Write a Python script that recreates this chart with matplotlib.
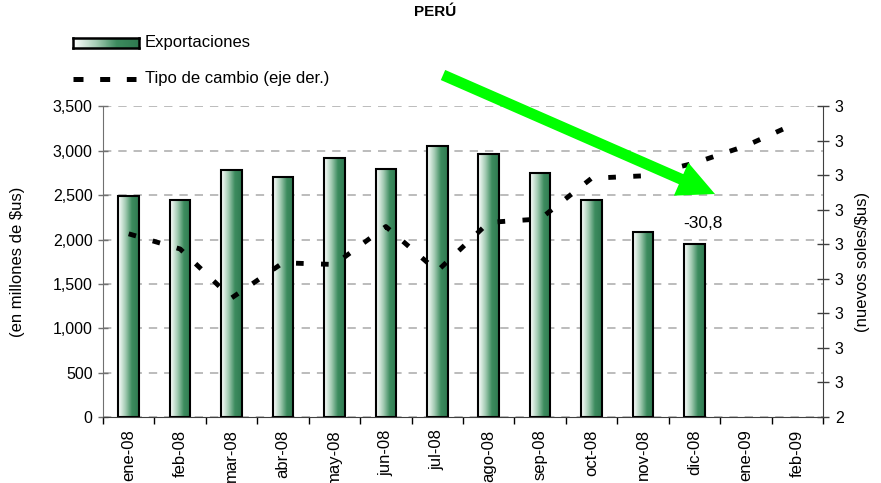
import numpy as np, matplotlib
matplotlib.use("Agg"); import matplotlib.pyplot as plt
from matplotlib.colors import LinearSegmentedColormap
from matplotlib.patches import Rectangle, FancyArrow
from matplotlib.lines import Line2D
from matplotlib.ticker import FuncFormatter
from matplotlib.transforms import IdentityTransform

months = ["ene-08","feb-08","mar-08","abr-08","may-08","jun-08","jul-08",
          "ago-08","sep-08","oct-08","nov-08","dic-08","ene-09","feb-09"]
exports = [2490, 2450, 2780, 2710, 2920, 2790, 3055, 2965, 2755, 2445, 2080, 1945]
fx_rate = [2.931, 2.887, 2.745, 2.847, 2.842, 2.952, 2.823, 2.964, 2.974,
           3.092, 3.099, 3.136, 3.186, 3.253]
note = "-30,8"

plt.rcParams.update({"font.family": ["Liberation Sans", "DejaVu Sans"],
                     "lines.scale_dashes": False})
INK = "#000000"; GRIDC = "#b0b0b0"; SPINE = "#707070"
cmap = LinearSegmentedColormap.from_list("g", ["#ffffff", "#a9cfb8", "#3d8c5f", "#2f7a50"])
grad = np.linspace(0, 1, 64).reshape(1, -1)

W, H = 881, 483
fig = plt.figure(figsize=(W/100, H/100), dpi=100)
ax = fig.add_axes([103/W, 66/H, 720/W, 310.5/H])
x = np.arange(len(months)); bw = 0.4

for xi, v in zip(x, exports):
    ax.imshow(grad, cmap=cmap, extent=[xi-bw/2, xi+bw/2, 0, v], aspect="auto", zorder=2)
    ax.add_patch(Rectangle((xi-bw/2, 0), bw, v, fill=False, ec=INK, lw=1.5, zorder=3))

ax.set_xlim(-0.5, len(months)-0.5); ax.set_ylim(0, 3500)
ax.set_yticks(np.arange(0, 3501, 500))
ax.yaxis.set_major_formatter(FuncFormatter(lambda v, p: f"{int(v):,}"))
ax.set_xticks(np.arange(-0.5, len(months), 1)); ax.set_xticklabels([])
ax.set_xticks(x, minor=True); ax.set_xticklabels(months, minor=True, rotation=90, fontsize=12)
ax.tick_params(axis="x", which="major", length=5, width=1, color=INK, direction="out")
ax.tick_params(axis="x", which="minor", length=0, pad=9)
ax.tick_params(axis="y", length=7, width=1, direction="inout", color=SPINE, labelsize=11.5, pad=4)
ax.grid(axis="y", color=GRIDC, lw=1.2, ls=(0, (6, 5)), zorder=0); ax.set_axisbelow(True)
for s in ["top", "right"]: ax.spines[s].set_visible(False)
ax.spines["left"].set_color(SPINE); ax.spines["bottom"].set_color("#404040")
ax.set_ylabel("(en millones de \\$us)", fontsize=12, labelpad=20)

ax2 = ax.twinx()
ax2.plot(x, fx_rate, color=INK, lw=3.5, dashes=(5.5, 12.5), dash_capstyle="butt", zorder=4)
ax2.set_ylim(2.4, 3.3); ax2.set_yticks(np.arange(2.4, 3.31, 0.1))
ax2.yaxis.set_major_formatter(FuncFormatter(lambda v, p: str(int(np.floor(v + 0.5 + 1e-9)))))
ax2.tick_params(axis="y", length=9, width=1, direction="inout", color="#404040", labelsize=11.5, pad=4)
for s in ["top", "left", "bottom"]: ax2.spines[s].set_visible(False)
ax2.spines["right"].set_color("#404040")
ax2.set_ylabel("(nuevos soles/\\$us)", fontsize=12, labelpad=8)

ax.text(11 - bw/2 - 0.02, exports[11] + 150, note, fontsize=12.5, ha="left", va="bottom", zorder=5)

fig.text(435/W, 1 - 12/H, "PERÚ", fontsize=11, fontweight="bold", ha="center", va="center")

# legend
lax = fig.add_axes([73/W, 1 - 48/H, 66/W, 10/H])
lax.imshow(grad, cmap=cmap, aspect="auto")
lax.set_xticks([]); lax.set_yticks([])
for s in lax.spines.values(): s.set_linewidth(1.8)
fig.text(145/W, 1 - 43/H, "Exportaciones", fontsize=12, va="center", ha="left")
fig.add_artist(Line2D([73/W, 136/W], [1 - 79/H, 1 - 79/H], color=INK, lw=3.6,
                      dashes=(7.2, 12), dash_capstyle="butt", transform=fig.transFigure))
fig.text(145/W, 1 - 79/H, "Tipo de cambio (eje der.)", fontsize=12, va="center", ha="left")

# green arrow
tail = (443, H - 75); tip = (715, H - 194)
arr = FancyArrow(tail[0], tail[1], tip[0]-tail[0], tip[1]-tail[1], width=11, head_width=36,
                 head_length=37, length_includes_head=True, color="#00ff00", lw=0, zorder=10)
fig.add_artist(arr)
arr.set_transform(IdentityTransform())

fig.savefig("out.png", dpi=100)
